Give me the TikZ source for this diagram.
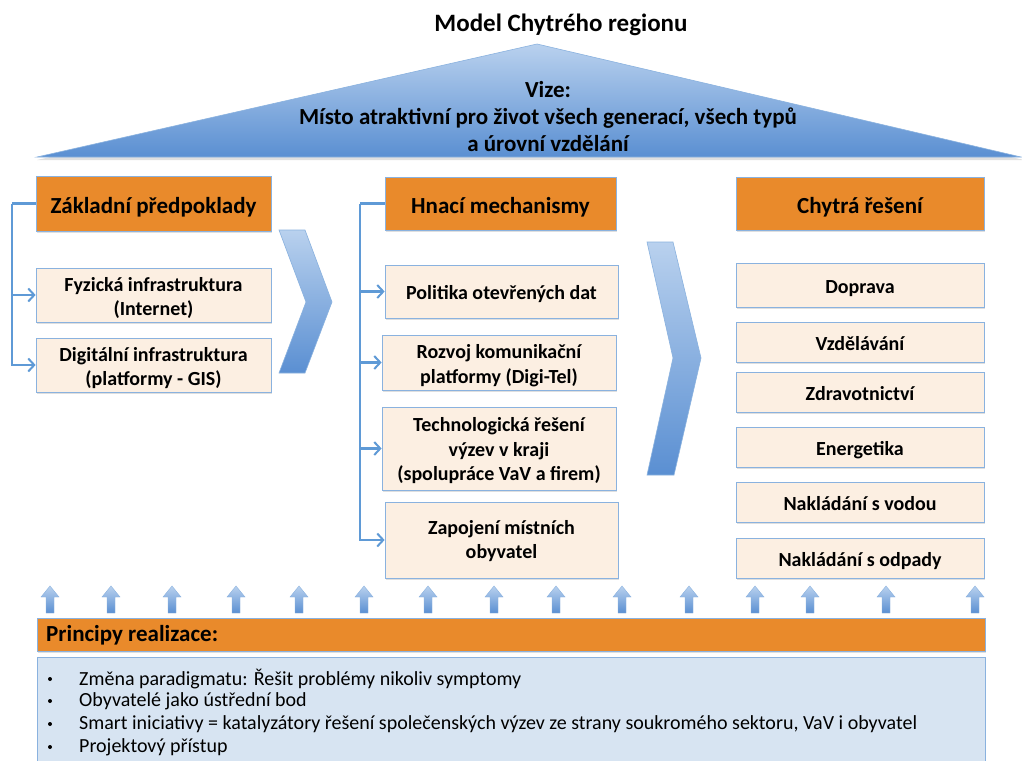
\documentclass[tikz,border=0pt]{standalone}
\usepackage{fontspec}
\setmainfont{Carlito}
\usetikzlibrary{arrows.meta,shadows,calc}
\definecolor{orng}{HTML}{E98A2B}
\definecolor{peach}{HTML}{FCEFE2}
\definecolor{bord}{HTML}{8AB2DF}
\definecolor{conn}{HTML}{5F9AD6}
\definecolor{lblue}{HTML}{D7E4F2}
\definecolor{gtop}{HTML}{B9D1EE}
\definecolor{gbot}{HTML}{5A8FD2}
\newcommand{\lowtx}[2]{\raisebox{-#1}[\height][\depth]{\begin{tabular}{@{}c@{}}#2\end{tabular}}}
\tikzset{
  shd/.style={drop shadow={opacity=0.25,shadow xshift=1pt,shadow yshift=-1.5pt}},
  headbox/.style={draw=bord,line width=0.8pt,fill=orng,shd,font=\fontsize{23}{26}\selectfont\bfseries,align=center,inner sep=0pt},
  itembox/.style={draw=bord,line width=0.8pt,fill=peach,shd,font=\fontsize{20}{24.5}\selectfont\bfseries,align=center,inner sep=0pt},
  conline/.style={draw=conn,line width=2.2pt},
  conarr/.style={conline,-{Straight Barb[length=6pt,width=13pt,line width=2pt]}},
  uparrow/.style={top color=gtop,bottom color=gbot,draw=bord,line width=0.4pt}
}
\newcommand{\uparr}[1]{%
  \shadedraw[uparrow] (#1-4,613) -- (#1-4,597) -- (#1-9,597) -- (#1,586) -- (#1+9,597) -- (#1+4,597) -- (#1+4,613) -- cycle;}
\begin{document}
\begin{tikzpicture}[x=1pt,y=-1pt]
\clip (0,0) rectangle (1022,760);
\fill[white] (0,0) rectangle (1022,760);

% title
\node[font=\fontsize{25}{28}\selectfont\bfseries] (title) at (561,25) {Model Chytrého regionu};

% vision triangle
\fill[black,opacity=0.12] (538,47) -- (1024,160) -- (37,160) -- cycle;
\shadedraw[top color=gtop,bottom color=gbot,draw=bord,line width=0.6pt] (537,44) -- (1021,157) -- (37,157) -- cycle;
\node[font=\fontsize{23}{27}\selectfont\bfseries,align=center] (vize) at (548,117) {Vize:\\Místo atraktivní pro život všech generací, všech typů\\a úrovní vzdělání};

% headers
\node[headbox,minimum width=235pt,minimum height=55pt] (zp) at (153.5,203.5) {\lowtx{5pt}{Základní předpoklady}};
\node[headbox,minimum width=231pt,minimum height=53pt] (hm) at (500.5,203.5) {\lowtx{5pt}{Hnací mechanismy}};
\node[headbox,minimum width=248pt,minimum height=53pt] (cr) at (860,203.5) {\lowtx{5pt}{Chytrá řešení}};

% left column
\node[itembox,minimum width=235pt,minimum height=54pt] (fi) at (153.5,295) {\lowtx{3.5pt}{Fyzická infrastruktura\\(Internet)}};
\node[itembox,minimum width=235pt,minimum height=54pt] (di) at (153.5,365) {\lowtx{3.5pt}{Digitální infrastruktura\\(platformy - GIS)}};

% middle column
\node[itembox,minimum width=233pt,minimum height=53pt] (po) at (501.5,291.5) {\lowtx{3.5pt}{Politika otevřených dat}};
\node[itembox,minimum width=234pt,minimum height=55pt] (ro) at (499,362.5) {\lowtx{3.5pt}{Rozvoj komunikační\\platformy (Digi-Tel)}};
\node[itembox,minimum width=234pt,minimum height=83pt] (te) at (499,448.5) {\lowtx{3pt}{Technologická řešení\\výzev v kraji\\(spolupráce VaV a firem)}};
\node[itembox,minimum width=233pt,minimum height=76pt] (za) at (501.5,540) {\lowtx{1.5pt}{Zapojení místních\\obyvatel}};

% right column
\node[itembox,minimum width=248pt,minimum height=44pt] (do) at (860,285) {\lowtx{4pt}{Doprava}};
\node[itembox,minimum width=248pt,minimum height=40pt] (vz) at (860,342) {\lowtx{3.5pt}{Vzdělávání}};
\node[itembox,minimum width=248pt,minimum height=40pt] (zd) at (860,392) {\lowtx{3.5pt}{Zdravotnictví}};
\node[itembox,minimum width=248pt,minimum height=40pt] (en) at (860,447) {\lowtx{3.5pt}{Energetika}};
\node[itembox,minimum width=248pt,minimum height=40pt] (vo) at (860,502) {\lowtx{3.5pt}{Nakládání s vodou}};
\node[itembox,minimum width=248pt,minimum height=40pt] (od) at (860,558) {\lowtx{3.5pt}{Nakládání s odpady}};

% connectors left
\coordinate (lc) at (12,203.5);
\draw[conline] (zp.west) -- (lc);
\draw[conarr] (lc) |- (di.west);
\draw[conarr] (lc) |- (fi.west);

% connectors middle
\coordinate (mc) at (360,203.5);
\draw[conline] (hm.west) -- (mc);
\draw[conarr] (mc) |- (za.west);
\draw[conarr] (mc) |- (te.west);
\draw[conarr] (mc) |- (ro.west);
\draw[conarr] (mc) |- (po.west);

% chevrons
\shadedraw[top color=gtop,bottom color=gbot,draw=bord,line width=0.6pt] (279,230) -- (305,230) -- (332,302) -- (305,373) -- (279,373) -- (306,302) -- cycle;
\shadedraw[top color=gtop,bottom color=gbot,draw=bord,line width=0.6pt] (647,242) -- (673,242) -- (701,358) -- (674,475) -- (647,475) -- (673,358) -- cycle;

% up arrows
\foreach \x in {50,111,172,236,299,364,428,494,556,622,689,755,810,886,975} {\uparr{\x}}

% principles
\node[draw=bord,line width=0.8pt,fill=orng,shd,minimum width=948pt,minimum height=33pt,inner sep=0pt] (pr) at (511,634.5) {};
\node[anchor=west,inner sep=0pt,font=\fontsize{23}{26}\selectfont\bfseries] (prt) at (46,635.5) {Principy realizace:};
\node[draw=bord,line width=0.8pt,fill=lblue,minimum width=948pt,minimum height=120pt,inner sep=0pt,anchor=north] (pb) at (511,657) {};
\begin{scope}[font=\fontsize{20}{24}\selectfont]
\foreach \y/\t [count=\i] in {679/{Změna paradigmatu: Řešit problémy nikoliv symptomy},701/{Obyvatelé jako ústřední bod},724/{Smart iniciativy = katalyzátory řešení společenských výzev ze strany soukromého sektoru, VaV i obyvatel},747/{Projektový přístup}} {
  \fill (50,\y) circle (2pt);
  \node[anchor=west,inner sep=0pt] (t\i) at (79,\y) {\t};
}
\end{scope}
\end{tikzpicture}
\end{document}
